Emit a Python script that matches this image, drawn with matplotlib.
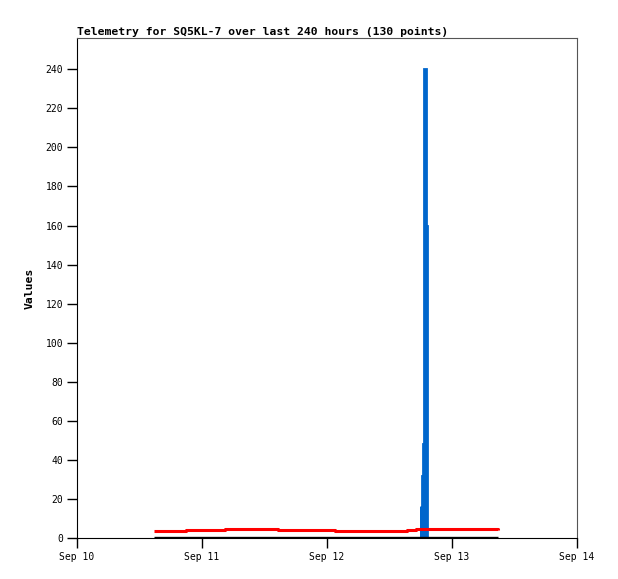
import matplotlib
matplotlib.use('Agg')
import matplotlib.pyplot as plt
import matplotlib.dates as mdates
from datetime import datetime

# red series (step changes)
red_times = ['2023-09-10 14:48', '2023-09-10 20:55', '2023-09-11 04:30', '2023-09-11 14:35',
             '2023-09-12 01:30', '2023-09-12 15:25', '2023-09-12 17:00', '2023-09-13 08:25',
             '2023-09-13 08:50']
red_values = [3.7, 4.25, 4.8, 4.25, 3.7, 4.25, 4.8, 4.8, 4.25]

# black series (flat zero)
black_times = ['2023-09-10 14:48', '2023-09-13 08:50']
black_values = [0, 0]

# blue series (spike)
blue_times = ['2023-09-12 17:57', '2023-09-12 18:12', '2023-09-12 18:25', '2023-09-12 18:37',
              '2023-09-12 18:57', '2023-09-12 19:12']
blue_values = [16, 32, 48, 240, 160, 0]

def conv(ts):
    return [datetime.strptime(t, '%Y-%m-%d %H:%M') for t in ts]

mono = 'DejaVu Sans Mono'

fig = plt.figure(figsize=(6.18, 5.79), dpi=100)
ax = fig.add_axes([77/618, 41/579, 500/618, 500/579])

bt = conv(blue_times)
ax.fill_between(bt, blue_values, 0, step='post', color='#0066cc', linewidth=0)
ax.plot(bt, blue_values, drawstyle='steps-post', color='#0066cc', linewidth=2,
        solid_capstyle='butt', solid_joinstyle='miter')
ax.plot(conv(red_times), red_values, drawstyle='steps-post', color='#ff0000', linewidth=2.2,
        solid_capstyle='butt')
ax.plot(conv(black_times), black_values, color='black', linewidth=2.4, solid_capstyle='butt')

ax.set_xlim(datetime(2023, 9, 10), datetime(2023, 9, 14))
ax.set_ylim(0, 256)
ax.xaxis.set_major_locator(mdates.DayLocator())
ax.xaxis.set_major_formatter(mdates.DateFormatter('%b %d'))
ax.set_yticks(range(0, 241, 20))

ax.tick_params(direction='out', length=7, width=1, labelsize=7, pad=3)
for lab in ax.get_xticklabels() + ax.get_yticklabels():
    lab.set_family(mono)
ax.spines['top'].set_color('#555555')
ax.spines['right'].set_color('#555555')

ax.set_title('Telemetry for SQ5KL-7 over last 240 hours (130 points)', loc='left',
             family=mono, fontweight='bold', fontsize=8.2, pad=2)
ax.set_ylabel('Values', family=mono, fontweight='bold', fontsize=8.2, labelpad=8)

fig.savefig('out.png', dpi=100)
